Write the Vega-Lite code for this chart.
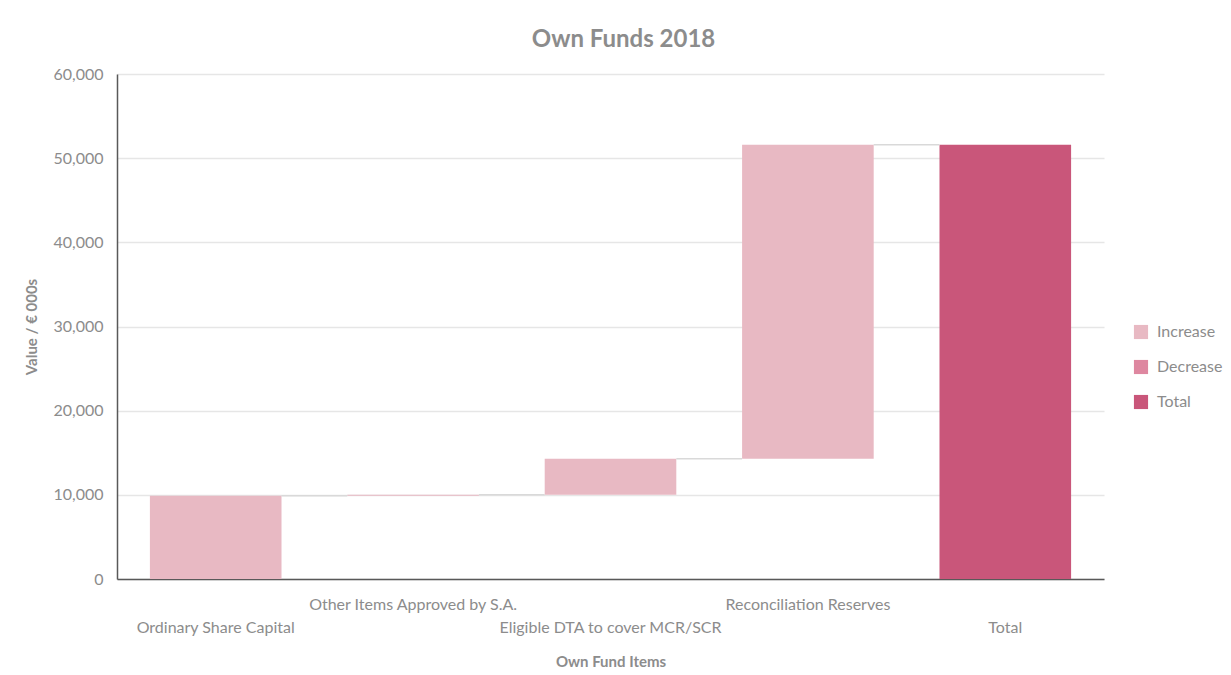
{
  "$schema": "https://vega.github.io/schema/vega-lite/v6.json",
  "width": 987,
  "height": 505,
  "autosize": {"type": "none"},
  "padding": {"left": 117, "top": 74, "right": 127, "bottom": 96},
  "background": "white",
  "title": {
    "text": "Own Funds 2018",
    "font": "Lato",
    "fontSize": 24,
    "fontWeight": "bold",
    "color": "#8c8c8c",
    "anchor": "middle",
    "dx": 13,
    "offset": 14
  },
  "data": {
    "values": [
      {"item": "Ordinary Share Capital", "start": 0, "end": 9900, "type": "Increase", "next": "Other Items Approved by S.A."},
      {"item": "Other Items Approved by S.A.", "start": 9900, "end": 10000, "type": "Increase", "next": "Eligible DTA to cover MCR/SCR"},
      {"item": "Eligible DTA to cover MCR/SCR", "start": 10000, "end": 14300, "type": "Increase", "next": "Reconciliation Reserves"},
      {"item": "Reconciliation Reserves", "start": 14300, "end": 51600, "type": "Increase", "next": "Total"},
      {"item": "Total", "start": 0, "end": 51600, "type": "Total", "next": null}
    ]
  },
  "encoding": {
    "x": {
      "field": "item",
      "type": "nominal",
      "sort": null,
      "scale": {"paddingInner": 0.3333, "paddingOuter": 0.1667},
      "axis": {
        "title": "Own Fund Items",
        "labelAngle": 0,
        "ticks": false,
        "labelPadding": 25,
        "labelLimit": 0,
        "labelFont": "Lato",
        "labelFontSize": 16,
        "labelColor": "#8c8c8c",
        "labelLineHeight": 23,
        "labelBaseline": "middle",
        "labelExpr": "indexof(['Ordinary Share Capital','Eligible DTA to cover MCR/SCR','Total'], datum.value) >= 0 ? ['', datum.value] : [datum.value, '']",
        "titleFont": "Lato",
        "titleFontSize": 15,
        "titleFontWeight": "bold",
        "titleColor": "#8c8c8c",
        "titlePadding": 19,
        "domainColor": "#595959",
        "domainWidth": 1.5,
        "grid": false
      }
    }
  },
  "layer": [
    {
      "mark": {"type": "bar"},
      "encoding": {
        "y": {
          "field": "start",
          "type": "quantitative",
          "scale": {"domain": [0, 60000]},
          "axis": {
            "title": "Value / € 000s",
            "values": [0, 10000, 20000, 30000, 40000, 50000, 60000],
            "format": ",.0f",
            "ticks": false,
            "labelPadding": 14,
            "labelFont": "Lato",
            "labelFontSize": 16,
            "labelColor": "#8c8c8c",
            "titleFont": "Lato",
            "titleFontSize": 15,
            "titleFontWeight": "bold",
            "titleColor": "#8c8c8c",
            "titlePadding": 13,
            "domainColor": "#595959",
            "domainWidth": 1.5,
            "gridColor": "#e6e6e6",
            "gridWidth": 1.5
          }
        },
        "y2": {"field": "end"},
        "color": {
          "field": "type",
          "type": "nominal",
          "scale": {"domain": ["Increase", "Decrease", "Total"], "range": ["#e8b9c3", "#de87a0", "#c9567a"]},
          "legend": {
            "title": null,
            "orient": "none",
            "legendX": 1016,
            "legendY": 250,
            "symbolType": "square",
            "symbolSize": 200,
            "symbolStrokeWidth": 0,
            "labelFont": "Lato",
            "labelFontSize": 16,
            "labelColor": "#8c8c8c",
            "labelOffset": 8,
            "rowPadding": 19
          }
        }
      }
    },
    {
      "transform": [{"filter": "datum.next != null"}],
      "mark": {"type": "rule", "color": "#d9d9d9", "strokeWidth": 1.5},
      "encoding": {
        "x": {"field": "item", "type": "nominal", "sort": null, "bandPosition": 1},
        "x2": {"field": "next", "bandPosition": 0},
        "y": {"field": "end", "type": "quantitative"}
      }
    }
  ],
  "config": {
    "view": {"stroke": null}
  }
}
